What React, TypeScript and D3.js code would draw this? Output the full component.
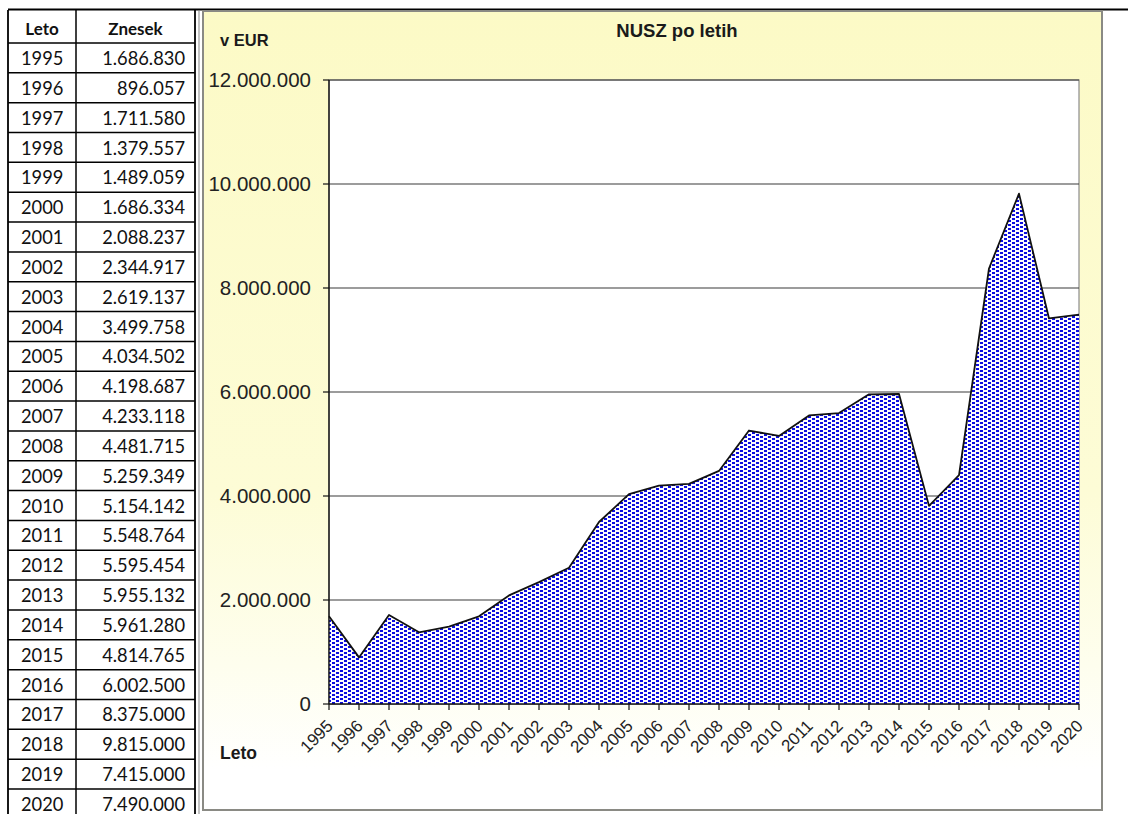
import React from "react";
import * as d3 from "d3";

const years: number[] = [1995,1996,1997,1998,1999,2000,2001,2002,2003,2004,2005,2006,2007,2008,2009,2010,2011,2012,2013,2014,2015,2016,2017,2018,2019,2020];
const tableAmounts: number[] = [1686830,896057,1711580,1379557,1489059,1686334,2088237,2344917,2619137,3499758,4034502,4198687,4233118,4481715,5259349,5154142,5548764,5595454,5955132,5961280,4814765,6002500,8375000,9815000,7415000,7490000];
const chartAmounts: number[] = [1686830,896057,1711580,1379557,1489059,1686334,2088237,2344917,2619137,3499758,4034502,4198687,4233118,4481715,5259349,5154142,5548764,5595454,5955132,5961280,3810000,4400000,8375000,9815000,7415000,7490000];
const yTicks: number[] = [0,2000000,4000000,6000000,8000000,10000000,12000000];
const tableHeaders: string[] = ["Leto", "Znesek"];
const chartTitle = "NUSZ po letih";
const yUnit = "v EUR";
const xTitle = "Leto";

const loc = d3.formatLocale({ decimal: ",", thousands: ".", grouping: [3], currency: ["", " €"] });
const fmt = loc.format(",d");

export default function App() {
  const W = 1128, H = 814;
  const tL = 8, tMid = 76, tR = 195, tTop = 10, hdrB = 43, rowH = 29.84;
  const pL = 203, pR = 1102, pT = 11, pB = 810;
  const plotL = 329, plotR = 1079, plotT = 80, plotB = 704;

  const x = d3.scaleLinear().domain([years[0], years[years.length - 1]]).range([plotL, plotR]);
  const y = d3.scaleLinear().domain([0, 12000000]).range([plotB, plotT]);
  const pts = years.map((yr, i) => ({ yr, v: chartAmounts[i] }));
  const area = d3.area<{ yr: number; v: number }>().x(d => x(d.yr)).y0(y(0)).y1(d => y(d.v));
  const line = d3.line<{ yr: number; v: number }>().x(d => x(d.yr)).y(d => y(d.v));

  const tableFont = "Lato, 'Open Sans', sans-serif";
  const chartFont = "'Liberation Sans', Arial, sans-serif";

  return (
    <div style={{ position: "absolute", left: 0, top: 0 }}>
      <svg width={W} height={H} style={{ display: "block", background: "#fff" }}>
        <defs>
          <linearGradient id="bg" x1="0" y1="0" x2="0" y2="1">
            <stop offset="0" stopColor="#fcfac6" />
            <stop offset="0.6" stopColor="#fdfcd6" />
            <stop offset="0.82" stopColor="#fefeee" />
            <stop offset="0.95" stopColor="#ffffff" />
          </linearGradient>
          <pattern id="dots" width="8" height="4" patternUnits="userSpaceOnUse" x="0" y="0">
            <rect width="8" height="4" fill="#fbfbff" />
            <rect x="0" y="0" width="3" height="2" fill="#0c0ce0" />
            <rect x="4" y="2" width="3" height="2" fill="#0c0ce0" />
          </pattern>
        </defs>

        {/* Table */}
        <g fontFamily={tableFont} fill="#111">
          <text x={(tL + tMid) / 2} y={35} textAnchor="middle" fontWeight="bold" fontSize={17}>{tableHeaders[0]}</text>
          <text x={(tMid + tR) / 2} y={35} textAnchor="middle" fontWeight="bold" fontSize={17}>{tableHeaders[1]}</text>
          {years.map((yr, i) => {
            const top = hdrB + i * rowH;
            return (
              <g key={yr}>
                <text x={21} y={top + 22} fontSize={18.3}>{yr}</text>
                <text x={185} y={top + 22} fontSize={18.3} textAnchor="end">{fmt(tableAmounts[i])}</text>
                <line x1={tL} x2={tR} y1={top} y2={top} stroke="#000" strokeWidth={1.5} />
              </g>
            );
          })}
          <line x1={tL} x2={tL} y1={tTop} y2={H} stroke="#000" strokeWidth={1.8} />
          <line x1={tMid} x2={tMid} y1={tTop} y2={H} stroke="#000" strokeWidth={1.5} />
          <line x1={tR} x2={tR} y1={tTop} y2={H} stroke="#000" strokeWidth={1.8} />
        </g>
        <line x1={tL} x2={W} y1={tTop - 0.5} y2={tTop - 0.5} stroke="#000" strokeWidth={2} />

        {/* Chart panel */}
        <rect x={pL} y={pT} width={pR - pL} height={pB - pT} fill="url(#bg)" stroke="#8a8a84" strokeWidth={2} />
        <line x1={199} x2={199} y1={tTop + 1} y2={H} stroke="#9a9a9a" strokeWidth={1.2} />
        <rect x={plotL} y={plotT} width={plotR - plotL} height={plotB - plotT} fill="#fff" stroke="#8a8a8a" strokeWidth={1.2} />

        <g fontFamily={chartFont}>
          <text x={677} y={37} textAnchor="middle" fontWeight="bold" fontSize={18.5} fill="#1a1a1a">{chartTitle}</text>
          <text x={220} y={46} fontWeight="bold" fontSize={16.5} fill="#1a1a1a">{yUnit}</text>
          <text x={220} y={759} fontWeight="bold" fontSize={17.5} fill="#1a1a1a">{xTitle}</text>

          {yTicks.filter(t => t > 0).map(t => (
            <line key={"g" + t} x1={plotL} x2={plotR} y1={y(t)} y2={y(t)} stroke="#3a3a3a" strokeWidth={1.1} />
          ))}

          <path d={area(pts) || ""} fill="url(#dots)" />
          <path d={line(pts) || ""} fill="none" stroke="#111" strokeWidth={1.8} strokeLinejoin="round" />

          <line x1={plotL} x2={plotL} y1={plotT} y2={plotB} stroke="#111" strokeWidth={1.4} />
          <line x1={plotL} x2={plotR} y1={plotB} y2={plotB} stroke="#111" strokeWidth={1.6} />
          {yTicks.map(t => (
            <g key={"y" + t}>
              <line x1={plotL - 6} x2={plotL} y1={y(t)} y2={y(t)} stroke="#111" strokeWidth={1.2} />
              <text x={311} y={y(t)} dy="0.36em" textAnchor="end" fontSize={20.5} fill="#222">{fmt(t)}</text>
            </g>
          ))}
          {years.map(yr => (
            <g key={"x" + yr}>
              <line x1={x(yr)} x2={x(yr)} y1={plotB} y2={plotB + 6} stroke="#111" strokeWidth={1.2} />
              <text transform={`translate(${x(yr) + 5},${plotB + 23}) rotate(-45)`} textAnchor="end" fontSize={17} fill="#222">{yr}</text>
            </g>
          ))}
        </g>
      </svg>
    </div>
  );
}
